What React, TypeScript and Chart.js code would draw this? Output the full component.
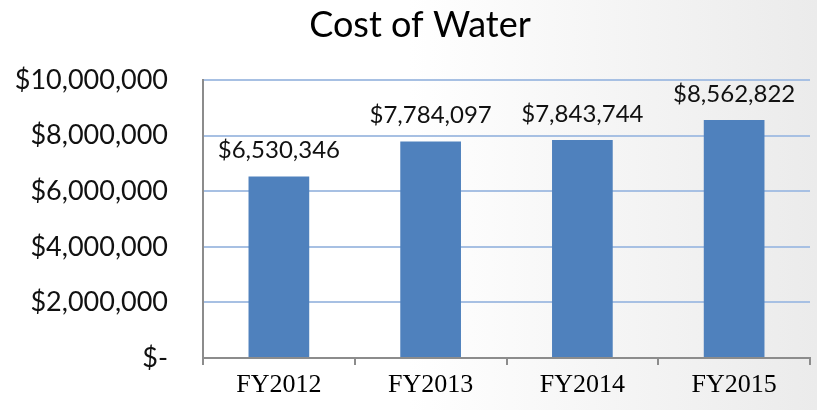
import React, { useEffect, useRef } from "react";
import { Chart, registerables } from "chart.js";

Chart.register(...registerables);

const categories = ["FY2012", "FY2013", "FY2014", "FY2015"];
const costValues = [6530346, 7784097, 7843744, 8562822];
const chartTitle = "Cost of Water";
const yMin = 0;
const yMax = 10000000;
const yStep = 2000000;

const fmtMoney = (v: number) =>
  v === 0 ? "$-" : "$" + Math.round(v).toLocaleString("en-US");

const dataLabelPlugin = {
  id: "dataLabels",
  afterDatasetsDraw(chart: any) {
    const ctx = chart.ctx;
    const meta = chart.getDatasetMeta(0);
    ctx.save();
    ctx.font = "24px Lato";
    ctx.fillStyle = "#111";
    ctx.textAlign = "center";
    ctx.textBaseline = "middle";
    meta.data.forEach((bar: any, i: number) => {
      ctx.fillText(fmtMoney(costValues[i]), bar.x, bar.y - 26);
    });
    ctx.restore();
  },
};

const titlePlugin = {
  id: "customTitle",
  afterDraw(chart: any) {
    const ctx = chart.ctx;
    ctx.save();
    ctx.font = "36px Lato";
    ctx.fillStyle = "#000";
    ctx.textAlign = "center";
    ctx.textBaseline = "middle";
    ctx.fillText(chartTitle, 420, 25);
    ctx.restore();
  },
};

export default function App() {
  const ref = useRef<HTMLCanvasElement | null>(null);
  useEffect(() => {
    document.body.style.margin = "0";
    if (!ref.current) return;
    const chart = new Chart(ref.current, {
      type: "bar",
      data: {
        labels: categories,
        datasets: [
          {
            data: costValues,
            backgroundColor: "#4f81bd",
            barPercentage: 0.4,
            categoryPercentage: 1,
          },
        ],
      },
      options: {
        animation: false,
        responsive: false,
        layout: { padding: { left: 0, right: 7, top: 80, bottom: 0 } },
        plugins: {
          legend: { display: false },
          tooltip: { enabled: false },
          title: { display: false },
        },
        scales: {
          x: {
            offset: true,
            grid: {
              display: true,
              offset: true,
              drawOnChartArea: false,
              drawTicks: true,
              tickLength: 7,
              color: "#8c8c8c",
              lineWidth: 2,
            },
            border: { display: true, color: "#8c8c8c", width: 2 },
            ticks: {
              color: "#000",
              font: { family: "Liberation Serif", size: 26 },
              padding: 5,
            },
            afterFit(axis: any) {
              axis.height = 52;
            },
          },
          y: {
            min: yMin,
            max: yMax,
            grid: {
              color: "#a7c0e3",
              lineWidth: 2,
              drawTicks: false,
            },
            border: { display: true, color: "#8c8c8c", width: 2 },
            ticks: {
              stepSize: yStep,
              color: "#111",
              font: { family: "Lato", size: 27 },
              padding: 35,
              callback: (v: any) => fmtMoney(Number(v)),
            },
            afterFit(axis: any) {
              axis.width = 203;
            },
          },
        },
      },
      plugins: [dataLabelPlugin, titlePlugin],
    });
    return () => chart.destroy();
  }, []);
  return (
    <div
      style={{
        width: 817,
        height: 410,
        background: "linear-gradient(to right, #ffffff 50%, #ebebeb 100%)",
      }}
    >
      <canvas ref={ref} width={817} height={410} />
    </div>
  );
}
